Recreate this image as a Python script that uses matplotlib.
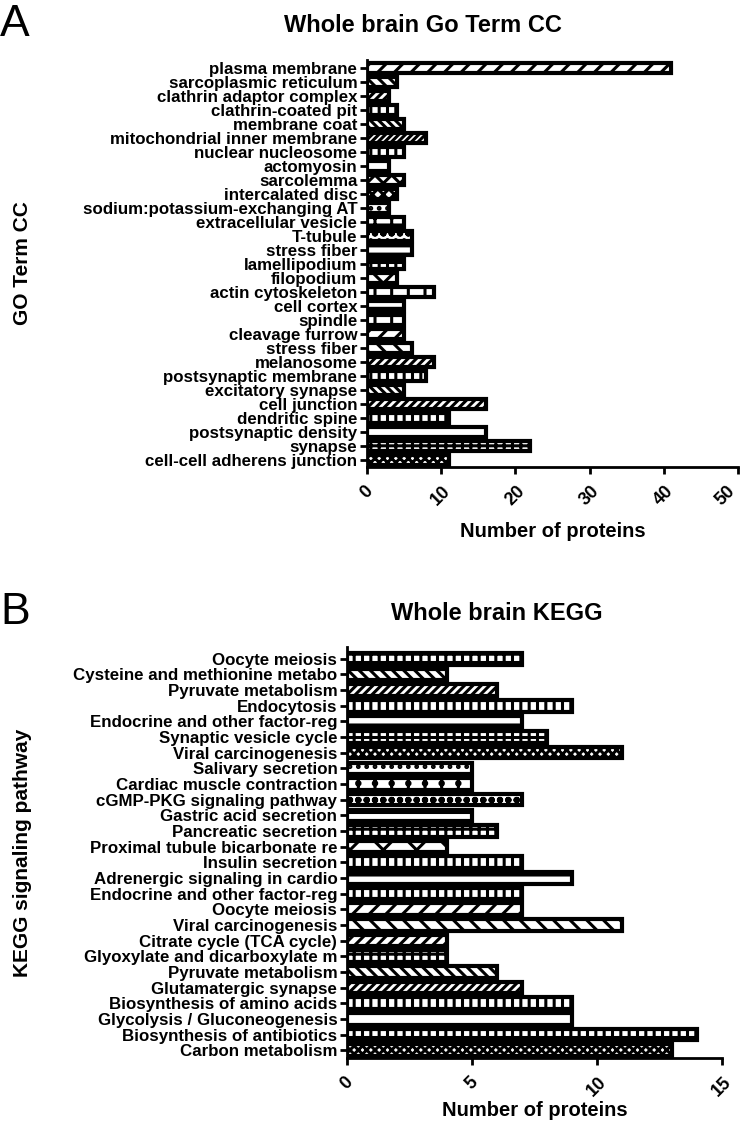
import matplotlib

matplotlib.use("Agg")

import matplotlib.pyplot as plt

plt.rcParams["font.family"] = ["Liberation Sans", "DejaVu Sans"]
plt.rcParams["font.weight"] = "bold"
plt.rcParams["hatch.linewidth"] = 2.2
plt.rcParams["hatch.color"] = "black"

# panel A: GO cellular component terms (top to bottom)
cc_terms = [
    "plasma membrane", "sarcoplasmic reticulum", "clathrin adaptor complex",
    "clathrin-coated pit", "membrane coat", "mitochondrial inner membrane",
    "nuclear nucleosome", "actomyosin", "sarcolemma", "intercalated disc",
    "sodium:potassium-exchanging AT", "extracellular vesicle", "T-tubule",
    "stress fiber", "lamellipodium", "filopodium", "actin cytoskeleton",
    "cell cortex", "spindle", "cleavage furrow", "stress fiber", "melanosome",
    "postsynaptic membrane", "excitatory synapse", "cell junction",
    "dendritic spine", "postsynaptic density", "synapse",
    "cell-cell adherens junction",
]
cc_counts = [41, 4, 3, 4, 5, 8, 5, 3, 5, 4, 3, 5, 6, 6, 5, 4, 9, 5, 5, 5, 6,
             9, 8, 5, 16, 11, 16, 22, 11]
cc_ticks = [0, 10, 20, 30, 40, 50]

# panel B: KEGG pathways (top to bottom)
kegg_terms = [
    "Oocyte meiosis", "Cysteine and methionine metabo", "Pyruvate metabolism",
    "Endocytosis", "Endocrine and other factor-reg", "Synaptic vesicle cycle",
    "Viral carcinogenesis", "Salivary secretion", "Cardiac muscle contraction",
    "cGMP-PKG signaling pathway", "Gastric acid secretion",
    "Pancreatic secretion", "Proximal tubule bicarbonate re",
    "Insulin secretion", "Adrenergic signaling in cardio",
    "Endocrine and other factor-reg", "Oocyte meiosis", "Viral carcinogenesis",
    "Citrate cycle (TCA cycle)", "Glyoxylate and dicarboxylate m",
    "Pyruvate metabolism", "Glutamatergic synapse",
    "Biosynthesis of amino acids", "Glycolysis / Gluconeogenesis",
    "Biosynthesis of antibiotics", "Carbon metabolism",
]
kegg_counts = [7, 4, 6, 9, 7, 8, 11, 5, 5, 7, 5, 6, 4, 7, 9, 7, 7, 11, 4, 4,
               6, 7, 9, 9, 14, 13]
kegg_ticks = [0, 5, 10, 15]

cc_hatches = ["//", "\\\\\\", "////", "||", "\\\\\\\\", "/////", "||", "-",
              "xx", "xxx", "..", "+.", "oo", "--", "++", "x", "|", "-", "|",
              "//", "\\\\", "////", "||", "\\\\\\\\", "////", "||", "-", "++",
              "xxxx"]
kegg_hatches = ["++", "\\\\\\", "////", "||", "-", "++", "xxxx", "..", "+.",
                "oo", "--", "++", "x", "||", "-", "||", "//", "\\\\", "///",
                "++", "\\\\\\", "////", "||", "-", "++", "xxxx"]

W, H = 745, 1133


def draw_panel(fig, ax, terms, counts, hatches, ticks, ylabel, height, ylim,
               xlabel_y, ylabel_y, last_right=False):
    pos = list(range(len(terms)))[::-1]
    bars = ax.barh(pos, counts, height=height, color="white",
                   edgecolor="black", linewidth=3)
    for bar, h in zip(bars, hatches):
        bar.set_hatch(h)
    ax.set_ylim(*ylim)
    ax.set_xlim(ticks[0], ticks[-1])
    ax.set_yticks(pos)
    ax.set_yticklabels(terms, fontsize=12.2, fontweight="bold")
    ax.set_xticks(ticks)
    ax.set_xticklabels([str(t) for t in ticks], rotation=45, fontsize=13,
                       fontweight="bold", ha="center", va="top")
    if last_right:
        # keep the last label inside the figure
        ax.get_xticklabels()[-1].set_ha("right")
    for side in ("top", "right"):
        ax.spines[side].set_visible(False)
    for side in ("left", "bottom"):
        ax.spines[side].set_linewidth(2)
    ax.tick_params(axis="both", width=2, length=5, direction="out")
    ax.tick_params(axis="y", pad=2)
    ax.tick_params(axis="x", pad=6)
    ax.set_xlabel("Number of proteins", fontsize=14.5, fontweight="bold")
    ax.set_ylabel(ylabel, fontsize=15, fontweight="bold")
    box = ax.get_position()
    ax.xaxis.set_label_coords(box.x0 + box.width / 2, 1 - xlabel_y / H,
                              transform=fig.transFigure)
    ax.yaxis.set_label_coords(32 / W, 1 - ylabel_y / H,
                              transform=fig.transFigure)


fig = plt.figure(figsize=(7.45, 11.33), dpi=100)

ax1 = fig.add_axes([367 / W, 1 - 467 / H, 371 / W, 407 / H])
draw_panel(fig, ax1, cc_terms, cc_counts, cc_hatches, cc_ticks, "GO Term CC",
           0.7, (-0.5, 28.57), 522, 263, last_right=True)

ax2 = fig.add_axes([347 / W, 1 - 1058 / H, 375 / W, 411 / H])
draw_panel(fig, ax2, kegg_terms, kegg_counts, kegg_hatches, kegg_ticks,
           "KEGG signaling pathway", 0.74, (-0.5, 25.75), 1101, 853)

fig.text(423 / W, 1 - 25 / H, "Whole brain Go Term CC", fontsize=17,
         fontweight="bold", ha="center", va="center")
fig.text(497 / W, 1 - 614 / H, "Whole brain KEGG", fontsize=17,
         fontweight="bold", ha="center", va="center")
fig.text(0, 1 - 25 / H, "A", fontsize=32, fontweight="normal",
         ha="left", va="center")
fig.text(0, 1 - 612 / H, "B", fontsize=32, fontweight="normal",
         ha="left", va="center")

fig.savefig("out.png", dpi=100)
